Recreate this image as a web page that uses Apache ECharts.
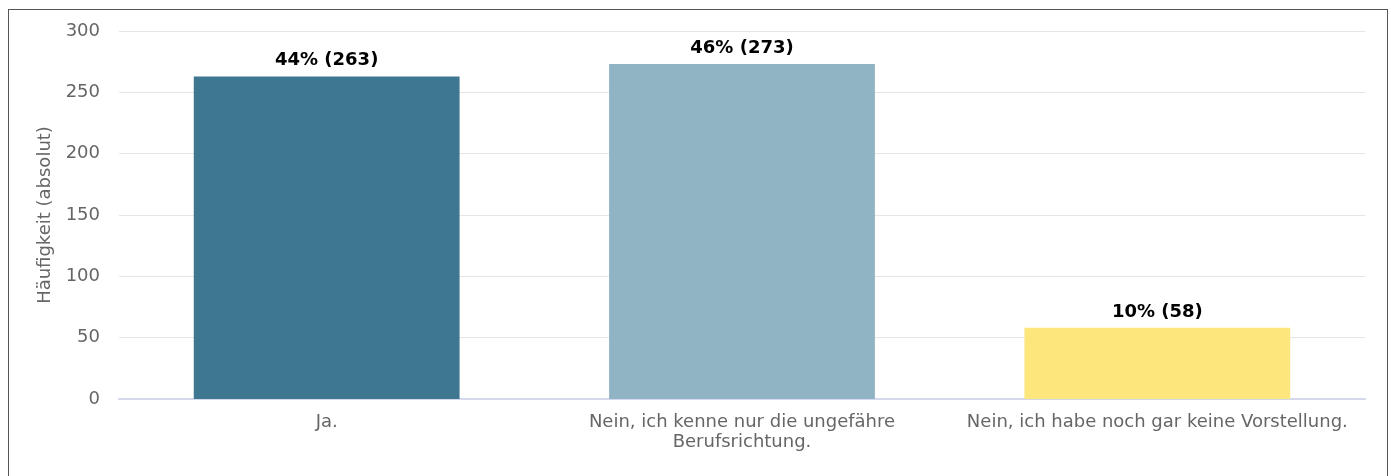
<!DOCTYPE html>
<html><head><meta charset="utf-8">
<script src="https://cdn.jsdelivr.net/npm/echarts@6/dist/echarts.min.js"></script>
<style>
html,body{margin:0;padding:0;background:#fff;width:1391px;height:476px;overflow:hidden;}
#frame{position:absolute;left:8px;top:9px;width:1380px;height:480px;border:1px solid #555;box-sizing:border-box;}
#chart{position:absolute;left:0;top:0;width:1391px;height:476px;}
</style></head>
<body>
<div id="frame"></div>
<div id="chart"></div>
<script>
const categories = ["Ja.", "Nein, ich kenne nur die ungefähre\nBerufsrichtung.", "Nein, ich habe noch gar keine Vorstellung."];
const counts = [263, 273, 58];
const barColors = ["#3d7790", "#91b4c4", "#fde67b"];
const yAxisName = "Häufigkeit (absolut)";
const total = counts.reduce((a, b) => a + b, 0);

const chart = echarts.init(document.getElementById('chart'));
chart.setOption({
  animation: false,
  textStyle: { fontFamily: 'DejaVu Sans' },
  grid: { left: 119, top: 31, width: 1246, height: 368 },
  xAxis: {
    type: 'category',
    data: categories,
    axisTick: { show: false },
    axisLine: { lineStyle: { color: '#d5d8ec', width: 2 } },
    axisLabel: { color: '#666', fontSize: 18, margin: 13, lineHeight: 20, interval: 0, fontFamily: 'DejaVu Sans' }
  },
  yAxis: {
    type: 'value',
    min: 0, max: 300, interval: 50,
    name: yAxisName,
    nameLocation: 'middle',
    nameGap: 64,
    nameTextStyle: { color: '#666', fontSize: 18, fontFamily: 'DejaVu Sans' },
    axisLabel: { color: '#666', fontSize: 18, margin: 19, fontFamily: 'DejaVu Sans' },
    splitLine: { lineStyle: { color: '#e6e6e6' } }
  },
  series: [{
    type: 'bar',
    barWidth: '64%',
    data: counts.map((v, i) => ({ value: v, itemStyle: { color: barColors[i] } })),
    label: {
      show: true, position: 'top', distance: 7,
      color: '#000', fontWeight: 'bold', fontSize: 18, fontFamily: 'DejaVu Sans',
      formatter: p => Math.round(p.value / total * 100) + '% (' + p.value + ')'
    }
  }]
});
</script>
</body></html>
